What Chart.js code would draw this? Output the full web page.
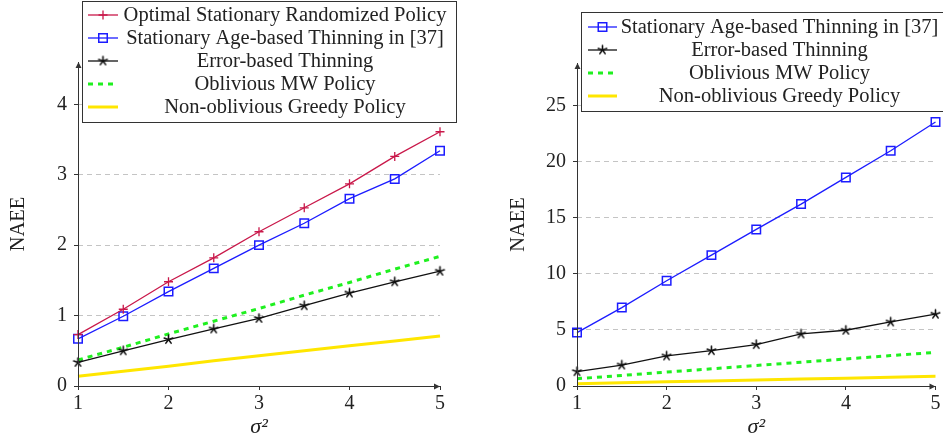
<!DOCTYPE html>
<html>
<head>
<meta charset="utf-8">
<title>NAEE vs sigma^2</title>
<script src="https://cdn.jsdelivr.net/npm/chart.js@4.4.1/dist/chart.umd.min.js"></script>
<style>
  html, body { margin: 0; padding: 0; background: #fff; }
  #wrap { position: relative; width: 943px; height: 438px; overflow: hidden; }
  .pane { position: absolute; top: 0; height: 438px; }
</style>
</head>
<body>
<div id="wrap">
  <div class="pane" style="left:0;width:470px"><canvas id="naee-left" width="470" height="438"></canvas></div>
  <div class="pane" style="left:470px;width:473px"><canvas id="naee-right" width="473" height="438"></canvas></div>
</div>
<script>
  /* ---- data ---- */
  var SIGMA2 = [1, 1.5, 2, 2.5, 3, 3.5, 4, 4.5, 5];
  var X_TICKS = [1, 2, 3, 4, 5];
  var LEFT_Y_TICKS = [0, 1, 2, 3, 4];
  var RIGHT_Y_TICKS = [0, 5, 10, 15, 20, 25];

  // left panel
  var L_OPTIMAL = [0.73, 1.09, 1.48, 1.82, 2.19, 2.53, 2.87, 3.26, 3.61];
  var L_AGE     = [0.67, 0.99, 1.34, 1.67, 2.00, 2.31, 2.66, 2.94, 3.34];
  var L_ERROR   = [0.335, 0.50, 0.66, 0.81, 0.96, 1.14, 1.32, 1.48, 1.63];
  var L_MW      = [0.37, 0.55, 0.74, 0.92, 1.10, 1.29, 1.47, 1.66, 1.84];
  var L_GREEDY  = [0.14, 0.21, 0.28, 0.36, 0.43, 0.50, 0.57, 0.64, 0.71];

  // right panel
  var R_AGE    = [4.76, 6.99, 9.38, 11.67, 13.96, 16.22, 18.6, 20.98, 23.54];
  var R_ERROR  = [1.28, 1.87, 2.68, 3.15, 3.69, 4.64, 4.97, 5.71, 6.40];
  var R_MW     = [0.65, 0.94, 1.24, 1.53, 1.83, 2.12, 2.41, 2.71, 3.00];
  var R_GREEDY = [0.20, 0.28, 0.37, 0.45, 0.53, 0.62, 0.70, 0.79, 0.87];

  var LABELS = {
    optimal: 'Optimal Stationary Randomized Policy',
    age: 'Stationary Age-based Thinning in [37]',
    error: 'Error-based Thinning',
    mw: 'Oblivious MW Policy',
    greedy: 'Non-oblivious Greedy Policy'
  };

  var FONT = '"Liberation Serif", "DejaVu Serif", serif';
  var AXIS_COLOR = '#333';

  /* five-spoke star mark */
  function starMark(r, color) {
    var c = document.createElement('canvas');
    var s = Math.ceil(r * 2 + 4);
    c.width = s; c.height = s;
    var g = c.getContext('2d');
    g.strokeStyle = color;
    g.lineWidth = 1.6;
    g.lineCap = 'round';
    for (var k = 0; k < 5; k++) {
      var a = -Math.PI / 2 + k * 2 * Math.PI / 5;
      g.beginPath();
      g.moveTo(s / 2, s / 2);
      g.lineTo(s / 2 + r * Math.cos(a), s / 2 + r * Math.sin(a));
      g.stroke();
    }
    return c;
  }
  var STAR = starMark(4.5, '#111');

  var STYLES = {
    optimal: { color: '#c9184a', width: 1.3, point: 'cross', radius: 4.5, pointWidth: 1.3 },
    age:     { color: '#1c1cff', width: 1.3, point: 'rect', radius: 6, pointWidth: 1.5 },
    error:   { color: '#111111', width: 1.3, point: STAR, radius: 5, pointWidth: 1 },
    mw:      { color: '#1ff01f', width: 3, dash: [5, 5], radius: 0 },
    greedy:  { color: '#ffe600', width: 3, radius: 0 }
  };

  function makeSet(key, values) {
    var st = STYLES[key];
    return {
      label: LABELS[key],
      data: SIGMA2.map(function (x, i) { return { x: x, y: values[i] }; }),
      borderColor: st.color,
      backgroundColor: st.color,
      borderWidth: st.width,
      borderDash: st.dash || [],
      pointStyle: st.point || 'circle',
      pointRadius: st.radius,
      pointBorderWidth: st.pointWidth || 0,
      pointBorderColor: st.color,
      pointBackgroundColor: 'rgba(0,0,0,0)',
      tension: 0,
      clip: false
    };
  }

  /* axes with arrow heads, pgfplots style */
  var arrowAxes = {
    id: 'arrowAxes',
    afterDatasetsDraw: function (chart) {
      var a = chart.chartArea, ctx = chart.ctx;
      ctx.save();
      ctx.strokeStyle = AXIS_COLOR;
      ctx.fillStyle = AXIS_COLOR;
      ctx.lineWidth = 1;
      ctx.beginPath();
      ctx.moveTo(a.left, a.bottom + 0.5);
      ctx.lineTo(a.right, a.bottom + 0.5);
      ctx.moveTo(a.left + 0.5, a.bottom);
      ctx.lineTo(a.left + 0.5, a.top);
      ctx.stroke();
      ctx.beginPath();
      ctx.moveTo(a.right, a.bottom + 0.5);
      ctx.lineTo(a.right - 6, a.bottom - 2.5);
      ctx.lineTo(a.right - 6, a.bottom + 3.5);
      ctx.closePath();
      ctx.moveTo(a.left + 0.5, a.top);
      ctx.lineTo(a.left - 2.5, a.top + 6);
      ctx.lineTo(a.left + 3.5, a.top + 6);
      ctx.closePath();
      ctx.fill();
      ctx.restore();
    }
  };

  /* boxed legend with centred entries */
  var boxLegend = {
    id: 'boxLegend',
    afterDraw: function (chart, args, opts) {
      var ctx = chart.ctx, b = opts.box;
      ctx.save();
      ctx.fillStyle = '#fff';
      ctx.fillRect(b[0], b[1], b[2] - b[0], b[3] - b[1]);
      ctx.strokeStyle = '#333';
      ctx.lineWidth = 1;
      ctx.strokeRect(b[0] + 0.5, b[1] + 0.5, b[2] - b[0], b[3] - b[1]);
      ctx.font = '20.5px ' + FONT;
      ctx.textAlign = 'center';
      ctx.textBaseline = 'middle';
      chart.data.datasets.forEach(function (ds, i) {
        var y = opts.rows[i];
        ctx.save();
        ctx.strokeStyle = ds.borderColor;
        ctx.lineWidth = ds.borderWidth;
        ctx.setLineDash(ds.borderDash);
        ctx.beginPath();
        ctx.moveTo(opts.line[0], y);
        ctx.lineTo(opts.line[1], y);
        ctx.stroke();
        ctx.setLineDash([]);
        if (ds.pointRadius > 0) {
          ctx.strokeStyle = ds.pointBorderColor;
          ctx.fillStyle = 'rgba(0,0,0,0)';
          ctx.lineWidth = ds.pointBorderWidth;
          Chart.helpers.drawPoint(ctx, {
            pointStyle: ds.pointStyle, radius: ds.pointRadius,
            borderWidth: ds.pointBorderWidth, rotation: 0
          }, (opts.line[0] + opts.line[1]) / 2, y);
        }
        ctx.restore();
        ctx.fillStyle = '#222';
        ctx.fillText(ds.label, opts.textX, y + 1);
      });
      ctx.restore();
    }
  };

  function makeOptions(cfg) {
    return {
      responsive: false,
      animation: false,
      devicePixelRatio: 1,
      layout: { padding: { left: 0, right: cfg.padRight, top: cfg.padTop, bottom: 0 } },
      plugins: {
        legend: { display: false },
        tooltip: { enabled: false },
        boxLegend: cfg.legend
      },
      scales: {
        x: {
          type: 'linear',
          min: 1, max: 5,
          afterBuildTicks: function (s) { s.ticks = X_TICKS.map(function (v) { return { value: v }; }); },
          afterFit: function (s) { s.height = 52; },
          grid: { drawOnChartArea: false, drawTicks: true, tickLength: 4, tickColor: AXIS_COLOR },
          border: { display: false },
          ticks: { color: '#222', padding: 2, maxRotation: 0, font: { family: FONT, size: 20 } },
          title: {
            display: true, text: 'σ²', color: '#222',
            font: { family: FONT, size: 22, style: 'italic', lineHeight: 1.0 },
            padding: { top: 0, bottom: 0 }
          }
        },
        y: {
          type: 'linear',
          min: 0, max: cfg.yMax,
          afterBuildTicks: function (s) { s.ticks = cfg.yTicks.map(function (v) { return { value: v }; }); },
          afterFit: function (s) { s.width = cfg.yWidth; },
          grid: {
            drawTicks: true, tickLength: 4, tickColor: AXIS_COLOR, lineWidth: 1,
            color: function (c) { return c.tick && c.tick.value === 0 ? 'rgba(0,0,0,0)' : '#c4c4c4'; }
          },
          border: { display: false, dash: [5, 4] },
          ticks: { color: '#222', padding: 7, font: { family: FONT, size: 20 } },
          title: {
            display: true, text: 'NAEE', color: '#222',
            font: { family: FONT, size: 20.5, lineHeight: 1.2 },
            padding: { top: cfg.titlePad, bottom: 0 }
          }
        }
      }
    };
  }

  function build() {
    new Chart(document.getElementById('naee-left'), {
      type: 'line',
      data: {
        datasets: [
          makeSet('optimal', L_OPTIMAL),
          makeSet('age', L_AGE),
          makeSet('error', L_ERROR),
          makeSet('mw', L_MW),
          makeSet('greedy', L_GREEDY)
        ]
      },
      options: makeOptions({
        yMax: 4.6, yTicks: LEFT_Y_TICKS, yWidth: 78, titlePad: 6,
        padRight: 30, padTop: 62,
        legend: { box: [82, 1, 456, 122], rows: [15, 38, 61, 84, 107], line: [88, 118], textX: 285 }
      }),
      plugins: [arrowAxes, boxLegend]
    });

    new Chart(document.getElementById('naee-right'), {
      type: 'line',
      data: {
        datasets: [
          makeSet('age', R_AGE),
          makeSet('error', R_ERROR),
          makeSet('mw', R_MW),
          makeSet('greedy', R_GREEDY)
        ]
      },
      options: makeOptions({
        yMax: 28.8, yTicks: RIGHT_Y_TICKS, yWidth: 107, titlePad: 36,
        padRight: 4, padTop: 63,
        legend: { box: [111, 12, 480, 111], rows: [27, 50, 73, 96], line: [118, 147], textX: 309.5 }
      }),
      plugins: [arrowAxes, boxLegend]
    });
  }

  // make sure the serif face is ready before the canvases draw text
  Promise.all([
    document.fonts.load('20px "Liberation Serif"'),
    document.fonts.load('italic 22px "Liberation Serif"')
  ]).then(build, build);
</script>
</body>
</html>
